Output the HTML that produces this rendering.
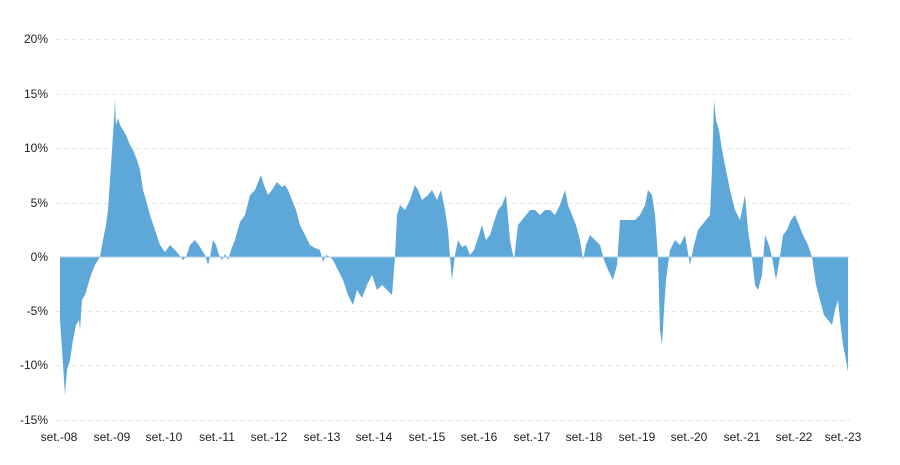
<!DOCTYPE html>
<html><head><meta charset="utf-8"><style>
body{margin:0;background:#fff}
svg text{font-family:"Liberation Sans",sans-serif;font-size:12px;fill:#222}
</style></head><body>
<svg width="900" height="460" xmlns="http://www.w3.org/2000/svg">
<g stroke="#e6e6e6" stroke-dasharray="4,4" stroke-width="1">
<line x1="56" x2="850" y1="39.5" y2="39.5"/><line x1="56" x2="850" y1="94.5" y2="94.5"/>
<line x1="56" x2="850" y1="148.5" y2="148.5"/><line x1="56" x2="850" y1="203.5" y2="203.5"/>
<line x1="56" x2="850" y1="311.5" y2="311.5"/><line x1="56" x2="850" y1="365.5" y2="365.5"/>
<line x1="56" x2="850" y1="420.5" y2="420.5"/>
</g>
<g text-anchor="end">
<text x="48" y="43">20%</text><text x="48" y="98">15%</text><text x="48" y="152">10%</text>
<text x="48" y="207">5%</text><text x="48" y="261">0%</text><text x="48" y="315">-5%</text>
<text x="48" y="369">-10%</text><text x="48" y="424">-15%</text>
</g>
<g text-anchor="middle">
<text x="59" y="441">set.-08</text><text x="112" y="441">set.-09</text><text x="164" y="441">set.-10</text>
<text x="217" y="441">set.-11</text><text x="269" y="441">set.-12</text><text x="322" y="441">set.-13</text>
<text x="374" y="441">set.-14</text><text x="427" y="441">set.-15</text><text x="479" y="441">set.-16</text>
<text x="532" y="441">set.-17</text><text x="584" y="441">set.-18</text><text x="637" y="441">set.-19</text>
<text x="689" y="441">set.-20</text><text x="742" y="441">set.-21</text><text x="843" y="441" text-anchor="middle">set.-23</text>
<text x="794" y="441">set.-22</text>
</g>
<path fill="#5ea8d9" d="M60,257 L60,320 62,350 64,380 65,395 67,370 70,360 73,340 76,325 79,320 80,330 82,300 85,295 88,285 91,275 95,265 98,260 100,257 103,240 106,225 108,210 110,180 112,150 114,120 115,100 116,125 118,118 120,125 123,130 126,135 130,145 133,150 137,160 140,170 143,190 146,200 150,215 155,230 160,245 165,252 170,245 175,250 180,256 183,260 186,257 190,245 195,240 200,247 205,255 208,265 210,257 213,240 216,245 219,255 222,260 225,254 228,260 231,250 235,240 240,222 245,215 250,195 255,190 261,175 264,185 268,195 272,190 277,182 282,187 285,185 288,190 292,200 296,210 300,225 305,235 310,245 315,248 320,250 323,262 326,255 330,257 333,260 338,270 343,280 348,295 353,305 357,290 362,298 367,285 372,275 377,290 382,285 387,290 392,295 395,257 397,215 400,205 405,210 410,200 415,185 418,190 422,200 428,195 432,190 437,200 441,190 445,210 448,230 450,257 452,280 455,255 458,240 462,247 466,245 470,255 474,250 478,238 482,225 486,240 490,235 494,222 498,210 502,205 506,195 510,240 514,260 518,225 522,220 526,215 530,210 535,210 540,215 545,210 550,210 555,215 560,205 565,190 568,205 572,215 576,225 580,240 583,260 586,245 590,235 595,240 600,245 604,260 608,270 613,280 617,265 620,220 625,220 630,220 635,220 640,215 645,205 648,190 652,195 655,215 658,257 660,330 662,345 664,310 666,280 670,250 675,240 680,245 685,235 690,265 694,245 698,230 702,225 706,220 710,215 712,170 714,100 716,120 719,130 722,150 726,170 730,190 735,210 740,220 745,195 748,230 752,257 755,285 758,290 762,275 765,235 769,245 772,257 776,280 780,257 783,235 787,230 791,220 795,215 799,225 803,235 808,245 812,257 816,285 820,300 824,315 828,320 832,325 835,310 838,300 840,320 843,345 846,360 848,372 848,257 Z"/>
<line x1="60" x2="849" y1="257" y2="257" stroke="#a9cde8" stroke-width="1"/>
</svg>
</body></html>
